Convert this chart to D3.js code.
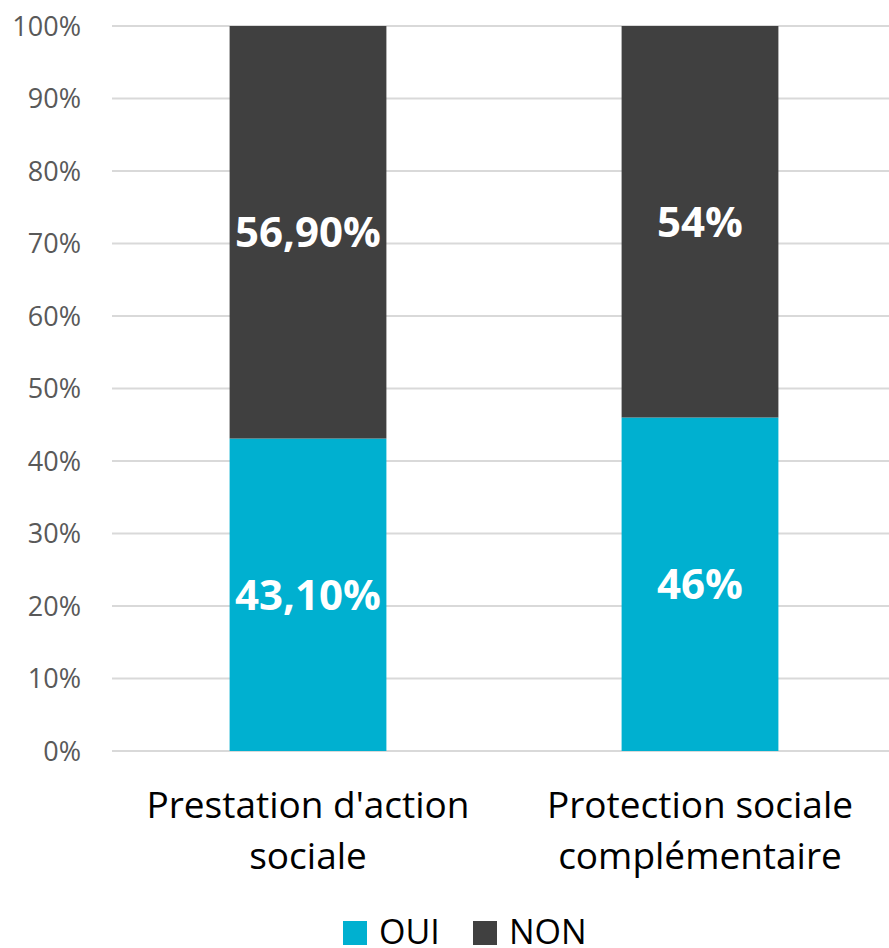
<!DOCTYPE html>
<html>
<head>
<meta charset="utf-8">
<script src="https://d3js.org/d3.v7.min.js"></script>
<style>
  body { margin: 0; background: #fff; }
  svg { display: block; font-family: "Open Sans", "Noto Sans", sans-serif; }
</style>
</head>
<body>
<script>
  // chart data
  var categories = [["Prestation d'action", "sociale"], ["Protection sociale", "complémentaire"]];
  var seriesNames = ["OUI", "NON"];
  var oui = [43.1, 46];
  var non = [56.9, 54];
  var labelsOui = ["43,10%", "46%"];
  var labelsNon = ["56,90%", "54%"];
  var yTicks = [0, 10, 20, 30, 40, 50, 60, 70, 80, 90, 100];
  var colors = ["#00B0D0", "#404040"];

  var W = 889, H = 948;
  var svg = d3.select("body").append("svg").attr("width", W).attr("height", H);

  var x = d3.scaleBand().domain([0, 1]).range([112, 896]).paddingInner(0.6).paddingOuter(0.3);
  var y = d3.scaleLinear().domain([0, 100]).range([751, 26]);

  // gridlines
  svg.append("g").selectAll("line").data(yTicks).enter().append("line")
    .attr("x1", 112).attr("x2", W)
    .attr("y1", function(d) { return y(d); }).attr("y2", function(d) { return y(d); })
    .attr("stroke", "#d9d9d9").attr("stroke-width", 2);

  // y axis labels
  svg.append("g").selectAll("text").data(yTicks).enter().append("text")
    .attr("x", 81).attr("y", function(d) { return y(d); })
    .attr("dy", "0.36em").attr("text-anchor", "end")
    .attr("font-size", 27).attr("fill", "#595959")
    .text(function(d) { return d + "%"; });

  // stacked bars
  var stacks = [oui, non];
  var g = svg.append("g");
  categories.forEach(function(c, i) {
    var base = 0;
    stacks.forEach(function(s, k) {
      g.append("rect")
        .attr("x", x(i)).attr("width", x.bandwidth())
        .attr("y", y(base + s[i])).attr("height", y(base) - y(base + s[i]))
        .attr("fill", colors[k]);
      g.append("text")
        .attr("x", x(i) + x.bandwidth() / 2)
        .attr("y", y(base + s[i] / 2))
        .attr("dy", "0.36em").attr("text-anchor", "middle")
        .attr("font-size", 42).attr("font-weight", "bold").attr("fill", "#fff")
        .text(k === 0 ? labelsOui[i] : labelsNon[i]);
      base += s[i];
    });
  });

  // category labels
  categories.forEach(function(c, i) {
    var t = svg.append("text")
      .attr("x", x(i) + x.bandwidth() / 2).attr("y", 818)
      .attr("text-anchor", "middle").attr("font-size", 37).attr("fill", "#000");
    c.forEach(function(line, j) {
      t.append("tspan").attr("x", x(i) + x.bandwidth() / 2)
        .attr("dy", j === 0 ? 0 : 51).text(line);
    });
  });

  // legend
  var legendX = [343, 473];
  seriesNames.forEach(function(n, k) {
    svg.append("rect").attr("x", legendX[k]).attr("y", 921)
      .attr("width", 24).attr("height", 24).attr("fill", colors[k]);
    svg.append("text").attr("x", legendX[k] + 36).attr("y", 944)
      .attr("font-size", 34).attr("fill", "#000").text(n);
  });
</script>
</body>
</html>
